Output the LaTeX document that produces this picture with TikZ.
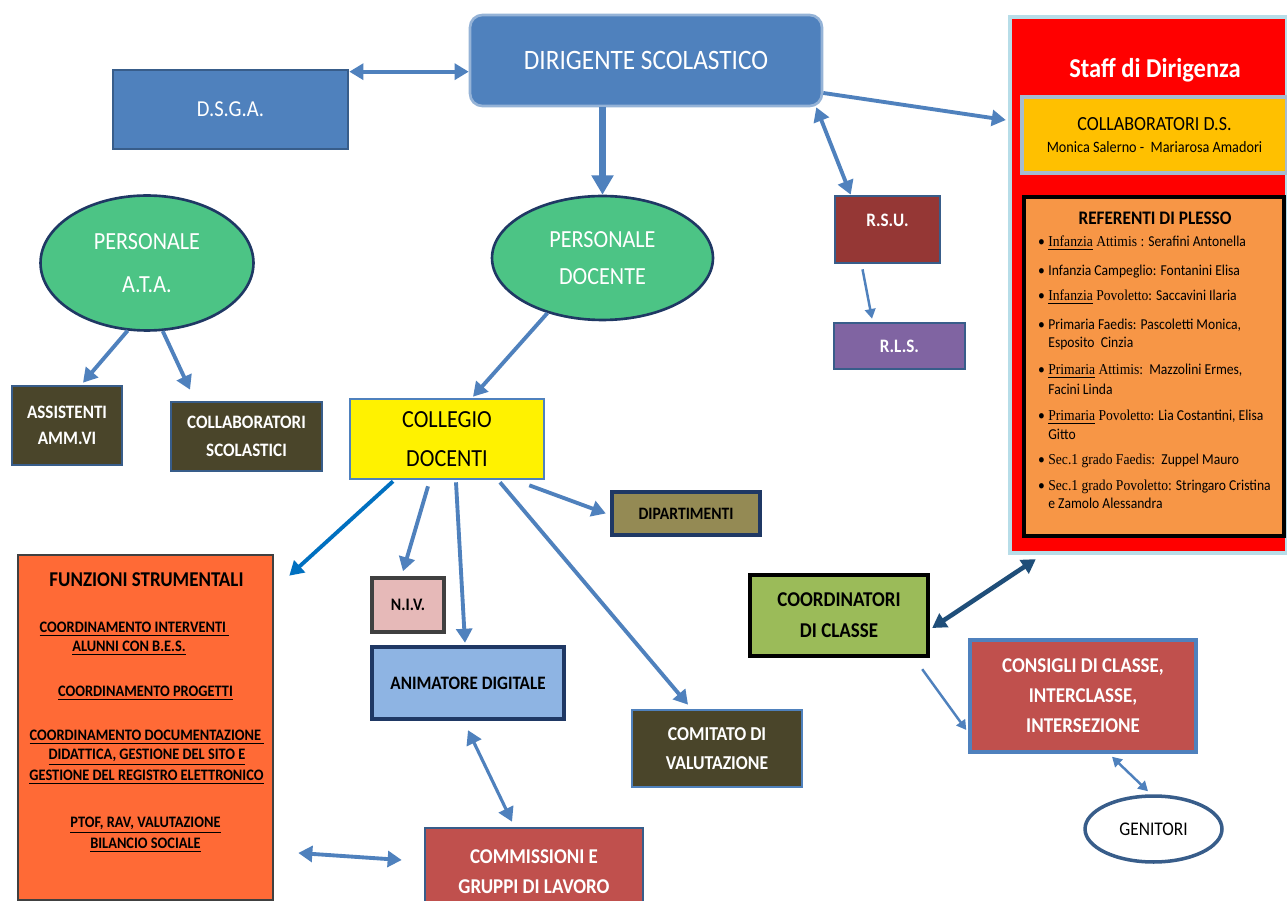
\documentclass[tikz,border=0pt]{standalone}
\usepackage{fontspec}
\setmainfont{Carlito}[FakeStretch=0.9]
\newfontfamily\refserif{Liberation Serif}[FakeStretch=0.9]
\usetikzlibrary{arrows.meta,shapes.geometric}

\definecolor{dsblue}{HTML}{4F81BD}
\definecolor{dsedge}{HTML}{385D8A}
\definecolor{navy}{HTML}{1F3864}
\definecolor{persgreen}{HTML}{4CC485}
\definecolor{olive}{HTML}{4A452A}
\definecolor{rsured}{HTML}{953735}
\definecolor{rlsviolet}{HTML}{8064A2}
\definecolor{staffedge}{HTML}{B7DDE8}
\definecolor{collabgold}{HTML}{FFC000}
\definecolor{collabedge}{HTML}{A6BCD1}
\definecolor{plesso}{HTML}{F79646}
\definecolor{dipolive}{HTML}{948A54}
\definecolor{nivpink}{HTML}{E6B9B8}
\definecolor{animblue}{HTML}{8EB4E3}
\definecolor{funzorange}{HTML}{FF6A36}
\definecolor{commred}{HTML}{C0504D}
\definecolor{coordgreen}{HTML}{9BBB59}
\definecolor{darkarrow}{HTML}{1F4E79}
\definecolor{funzarrow}{HTML}{0070C0}

\newcommand{\plessobullet}{\llap{\textbullet\hspace{2pt}}}

\tikzset{
  >={Triangle[length=8pt,width=9pt]},
  box/.style={rectangle, draw=dsedge, line width=1.5pt, inner sep=0pt, align=center},
  ovalbox/.style={ellipse, draw=navy, line width=1.5pt, inner sep=0pt, align=center},
  conn/.style={draw=dsblue, line width=2.2pt, ->},
  biconn/.style={draw=dsblue, line width=2.2pt, <->},
  thinconn/.style={draw=dsblue, line width=1.4pt, >={Triangle[length=5.5pt,width=6pt]}},
}

\begin{document}
\begin{tikzpicture}[x=0.02cm,y=-0.02cm]
    \fill[white] (0,0) rectangle (1287,901);
    \useasboundingbox (0,0) rectangle (1287,901);

    % top row
    \node[box, fill=dsblue, draw=dsblue!60!white, rounded corners=7pt, minimum width=7.04cm, minimum height=1.82cm,
          text=white, font=\fontsize{16}{19}\selectfont] (dir) at (646,60.5) {DIRIGENTE SCOLASTICO};
    \node[box, fill=dsblue, minimum width=4.7cm, minimum height=1.58cm,
          text=white, font=\fontsize{13}{15}\selectfont] (dsga) at (230.5,109.5) {D.S.G.A.};

    % personale
    \node[ovalbox, fill=persgreen, minimum width=4.26cm, minimum height=2.7cm,
          text=white, font=\fontsize{14}{24.4}\selectfont] (ata) at (147,263) {PERSONALE\\A.T.A.};
    \node[ovalbox, fill=persgreen, minimum width=4.42cm, minimum height=2.48cm,
          text=white, font=\fontsize{14}{21.5}\selectfont] (doc) at (602.5,258) {PERSONALE\\DOCENTE};
    \node[box, fill=olive, minimum width=2.2cm, minimum height=1.58cm,
          text=white, font=\bfseries\fontsize{10.8}{14.7}\selectfont] (assist) at (67,425.5) {ASSISTENTI\\AMM.VI};
    \node[box, fill=olive, minimum width=3.02cm, minimum height=1.38cm,
          text=white, font=\bfseries\fontsize{10.8}{15.9}\selectfont] (collsc) at (246.5,436.5) {COLLABORATORI\\SCOLASTICI};

    % rsu / rls
    \node[box, fill=rsured, minimum width=2.1cm, minimum height=1.34cm,
          text=white, font=\bfseries\fontsize{10.8}{10.8}\selectfont] (rsu) at (887.5,229.5) {R.S.U.\\\mbox{}};
    \node[box, fill=rlsviolet, minimum width=2.62cm, minimum height=0.92cm,
          text=white, font=\bfseries\fontsize{10.8}{13}\selectfont] (rls) at (899.5,346) {R.L.S.};

    % staff di dirigenza
    \node[box, fill=red, draw=staffedge, line width=2.5pt, minimum width=5.54cm, minimum height=10.72cm] (staff) at (1148.5,285) {};
    \node[text=white, font=\bfseries\fontsize{15.5}{18}\selectfont] (stafftitle) at (1155,70) {Staff di Dirigenza};
    \node[box, fill=collabgold, draw=collabedge, line width=2pt, minimum width=5.3cm, minimum height=1.52cm,
          font=\fontsize{11.4}{13}\selectfont] (collab) at (1154.5,135)
          {COLLABORATORI D.S.\\{\fontsize{9}{11}\selectfont Monica Salerno -\ \ Mariarosa Amadori}};
    \node[box, fill=plesso, draw=black, line width=2.2pt, minimum width=5.2cm, minimum height=6.78cm] (plesso) at (1154,366.5) {};
    \node[font=\bfseries\fontsize{10.9}{13}\selectfont] (plessotitle) at (1155,218) {REFERENTI DI PLESSO};
    \foreach \y/\txt [count=\i] in {
        247/{\plessobullet{\refserif\underline{Infanzia} Attimis :} Serafini Antonella},
        276/{\plessobullet Infanzia Campeglio: Fontanini Elisa},
        301/{\plessobullet{\refserif\underline{Infanzia} Povoletto}: Saccavini Ilaria},
        330/{\plessobullet Primaria Faedis: Pascoletti Monica,},
        348/{Esposito\ \ Cinzia},
        375/{\plessobullet{\refserif\underline{Primaria} Attimis:}\ \ Mazzolini Ermes,},
        395/{Facini Linda},
        421/{\plessobullet{\refserif\underline{Primaria} Povoletto}: Lia Costantini, Elisa},
        440/{Gitto},
        465/{\plessobullet{\refserif Sec.1 grado Faedis:}\ \ Zuppel Mauro},
        491/{\plessobullet{\refserif Sec.1 grado Povoletto:} Stringaro Cristina},
        509/{e Zamolo Alessandra}}
        \node[anchor=base west, inner sep=0pt, font=\fontsize{8.6}{10}\selectfont] (ref\i) at (1048,\y) {\txt};

    % collegio docenti
    \node[box, fill=yellow, draw=dsblue, minimum width=3.88cm, minimum height=1.6cm,
          font=\fontsize{14}{22}\selectfont] (collegio) at (447,439) {COLLEGIO\\DOCENTI};
    \node[box, fill=dipolive, draw=navy, line width=2.5pt, minimum width=2.96cm, minimum height=0.86cm,
          font=\bfseries\fontsize{9.9}{12}\selectfont] (dip) at (686,513.5) {DIPARTIMENTI};
    \node[box, fill=nivpink, draw=black!75, line width=2pt, minimum width=1.44cm, minimum height=1.08cm,
          font=\bfseries\fontsize{10}{12}\selectfont] (niv) at (408,605) {N.I.V.};
    \node[box, fill=animblue, draw=navy, line width=2.5pt, minimum width=3.84cm, minimum height=1.44cm,
          font=\bfseries\fontsize{10.8}{13}\selectfont] (anim) at (468,683) {ANIMATORE DIGITALE};
    \node[box, fill=olive, draw=dsblue, minimum width=3.4cm, minimum height=1.54cm,
          text=white, font=\bfseries\fontsize{11.2}{16.4}\selectfont] (comit) at (717,748.5) {COMITATO DI\\VALUTAZIONE};
    \node[box, fill=commred, draw=dsedge, minimum width=4.36cm, minimum height=1.74cm,
          text=white, font=\bfseries\fontsize{12}{17}\selectfont] (comm) at (534,871.5) {COMMISSIONI E\\GRUPPI DI LAVORO};

    % funzioni strumentali
    \node[box, fill=funzorange, draw=black!75, minimum width=5.1cm, minimum height=6.9cm] (funz) at (145.5,727.5) {};
    \node[font=\bfseries\fontsize{12}{14}\selectfont] (funztitle) at (146.5,580) {FUNZIONI STRUMENTALI};
    \foreach \x/\y/\txt [count=\i] in {
        134.5/629/{COORDINAMENTO INTERVENTI\ },
        129/648/{ALUNNI CON B.E.S.},
        145.5/693/{COORDINAMENTO PROGETTI},
        147/737/{COORDINAMENTO DOCUMENTAZIONE\ },
        147/757/{DIDATTICA, GESTIONE DEL SITO E},
        146.5/777/{GESTIONE DEL REGISTRO ELETTRONICO},
        145.5/825/{PTOF, RAV, VALUTAZIONE},
        145.5/845/{BILANCIO SOCIALE}}
        \node[inner sep=0pt, font=\bfseries\fontsize{9.1}{10}\selectfont] (funz\i) at (\x,\y) {\underline{\txt}};

    % classi
    \node[box, fill=coordgreen, draw=black, line width=2.5pt, minimum width=3.56cm, minimum height=1.62cm,
          font=\bfseries\fontsize{12}{17.6}\selectfont] (coord) at (839,615.5) {COORDINATORI\\DI CLASSE};
    \node[box, fill=commred, draw=dsblue, line width=2pt, minimum width=4.52cm, minimum height=2.24cm,
          text=white, font=\bfseries\fontsize{12}{17}\selectfont] (cons) at (1083,696) {CONSIGLI DI CLASSE,\\INTERCLASSE,\\INTERSEZIONE};
    \node[ovalbox, fill=white, draw=dsedge, line width=2pt, minimum width=2.74cm, minimum height=1.32cm,
          font=\fontsize{11}{13}\selectfont] (gen) at (1153.5,829) {GENITORI};

    % connectors
    \draw[biconn] ([yshift=-0.06cm]dsga.north east) -- ([yshift=-0.06cm]dsga.north east -| dir.west);
    \draw[conn, line width=4pt, >={Triangle[length=11pt,width=12pt]}] (doc.north |- dir.south) -- (doc.north);
    \draw[biconn] ([xshift=-0.14cm]dir.south east) -- ([xshift=0.34cm]rsu.north west);
    \draw[thinconn, ->] ([xshift=-0.5cm,yshift=-0.1cm]rsu.south) -- ([xshift=-0.55cm,yshift=0.06cm]rls.north);
    \draw[conn] ([yshift=-0.65cm]dir.east) -- ([xshift=-0.04cm,yshift=3.3cm]staff.west);
    \draw[conn] (ata.254) -- ([xshift=0.32cm,yshift=0.04cm]assist.north);
    \draw[conn] (ata.-77) -- ([xshift=-1.13cm,yshift=0.22cm]collsc.north);
    \draw[conn] (doc.225) -- ([xshift=0.52cm,yshift=0.02cm]collegio.north);
    \draw[conn] ([xshift=-0.32cm,yshift=-0.1cm]collegio.south east) -- ([xshift=-0.08cm]dip.west);
    \draw[conn] ([xshift=-0.38cm,yshift=-0.12cm]collegio.south) -- ([xshift=-0.1cm,yshift=0.1cm]niv.north);
    \draw[conn] ([xshift=0.18cm,yshift=-0.04cm]collegio.south) -- ([xshift=-0.06cm,yshift=0.04cm]anim.north);
    \draw[conn] ([xshift=1.06cm,yshift=-0.04cm]collegio.south) -- ([xshift=-0.58cm,yshift=0.08cm]comit.north);
    \draw[conn, draw=funzarrow] ([xshift=-1.08cm,yshift=-0.02cm]collegio.south) -- ([xshift=0.3cm,yshift=-0.44cm]funz.north east);
    \draw[biconn, line width=1.8pt] ([yshift=-0.18cm]anim.south) -- ([xshift=-0.44cm,yshift=0.1cm]comm.north);
    \draw[biconn] ([xshift=0.48cm,yshift=-2.51cm]funz.east) -- ([xshift=-0.44cm,yshift=0.23cm]comm.west);
    \draw[biconn, draw=darkarrow, line width=2.6pt] ([xshift=0.56cm,yshift=-0.08cm]staff.south west) -- ([xshift=0.04cm,yshift=-0.25cm]coord.east);
    \draw[thinconn, ->] ([xshift=-0.16cm,yshift=-0.22cm]coord.south east) -- ([xshift=-0.04cm,yshift=-0.68cm]cons.west);
    \draw[thinconn, <->] ([xshift=0.58cm,yshift=-0.06cm]cons.south) -- ([xshift=-0.11cm,yshift=0.06cm]gen.north);
\end{tikzpicture}
\end{document}
